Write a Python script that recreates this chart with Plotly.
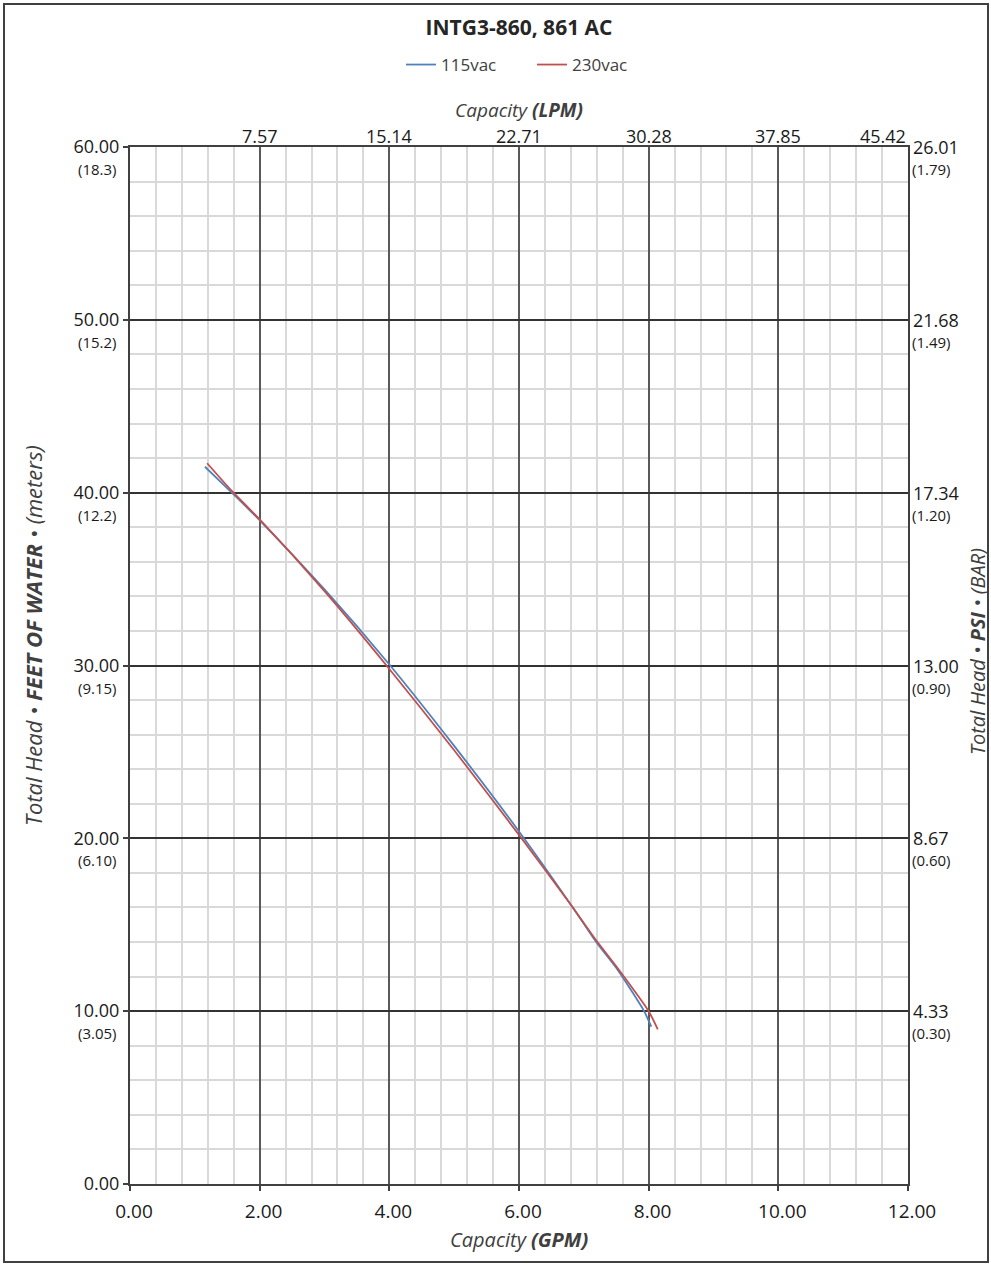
import plotly.graph_objects as go

# ---- data ----
gpm_115 = [1.156, 1.57, 2.0, 3.0, 4.0, 5.0, 6.0, 6.83, 7.19, 7.52, 7.93, 8.04]
head_115 = [41.5, 40.0, 38.4, 34.4, 30.06, 25.35, 20.4, 16.0, 14.0, 12.4, 10.0, 9.1]
gpm_230 = [1.19, 1.57, 2.0, 3.0, 4.0, 5.0, 6.0, 6.83, 7.19, 7.52, 8.0, 8.14]
head_230 = [41.7, 40.1, 38.45, 34.3, 29.8, 25.1, 20.2, 16.0, 14.1, 12.5, 10.0, 8.95]

x_ticks = [0, 2, 4, 6, 8, 10, 12]
x_tick_text = ["0.00", "2.00", "4.00", "6.00", "8.00", "10.00", "12.00"]
lpm_ticks = [2, 4, 6, 8, 10, 12]
lpm_labels = ["7.57", "15.14", "22.71", "30.28", "37.85", "45.42"]
y_ticks = [0, 10, 20, 30, 40, 50, 60]
y_tick_text = ["0.00", "10.00", "20.00", "30.00", "40.00", "50.00", "60.00"]
sec_ticks = [10, 20, 30, 40, 50, 60]
meters_labels = ["(3.05)", "(6.10)", "(9.15)", "(12.2)", "(15.2)", "(18.3)"]
psi_labels = ["4.33", "8.67", "13.00", "17.34", "21.68", "26.01"]
bar_labels = ["(0.30)", "(0.60)", "(0.90)", "(1.20)", "(1.49)", "(1.79)"]

FONT = "Open Sans"
TXT = "#1a1a1a"
BLUE = "#4F81BD"
RED = "#C0504D"

fig = go.Figure()
fig.add_trace(go.Scatter(x=gpm_115, y=head_115, mode="lines", name="115vac",
                         line=dict(color=BLUE, width=1.8, shape="spline", smoothing=0.6)))
fig.add_trace(go.Scatter(x=gpm_230, y=head_230, mode="lines", name="230vac",
                         line=dict(color=RED, width=1.8, shape="spline", smoothing=0.6)))

annotations = []
# top LPM labels
for g, t in zip(lpm_ticks, lpm_labels):
    annotations.append(dict(x=g, xref="x", y=(1184 - 136) / 1037, yref="paper", text=t,
                            showarrow=False, xanchor="right" if g == 12 else "center",
                            yanchor="middle", font=dict(family=FONT, size=18, color=TXT)))
# meters under left labels, psi/bar on right
for v, m, p, b in zip(sec_ticks, meters_labels, psi_labels, bar_labels):
    annotations.append(dict(x=-0.0424, xref="paper", y=v, yref="y", yshift=-22, text=m,
                            showarrow=False, xanchor="center", yanchor="middle",
                            font=dict(family=FONT, size=15, color=TXT)))
    annotations.append(dict(x=1.004, xref="paper", y=v, yref="y", text=p,
                            showarrow=False, xanchor="left", yanchor="middle",
                            font=dict(family=FONT, size=18, color=TXT)))
    annotations.append(dict(x=1.002, xref="paper", y=v, yref="y", yshift=-22, text=b,
                            showarrow=False, xanchor="left", yanchor="middle",
                            font=dict(family=FONT, size=15, color=TXT)))
# axis titles
annotations += [
    dict(x=0.5, xref="paper", y=(1184 - 110) / 1037, yref="paper",
         text="<i>Capacity <b>(LPM)</b></i>",
         showarrow=False, xanchor="center", yanchor="middle",
         font=dict(family=FONT, size=19, color="#404040")),
    dict(x=0.5, xref="paper", y=-0.054, yref="paper", text="<i>Capacity <b>(GPM)</b></i>",
         showarrow=False, xanchor="center", yanchor="middle",
         font=dict(family=FONT, size=20, color="#404040")),
    dict(x=(33 - 130) / 778, xref="paper", y=(1184 - 636) / 1037, yref="paper",
         text="<i>Total Head • <b>FEET OF WATER</b> • (meters)</i>", textangle=-90,
         showarrow=False, xanchor="center", yanchor="middle",
         font=dict(family=FONT, size=22, color="#404040")),
    dict(x=(977 - 130) / 778, xref="paper", y=(1184 - 652) / 1037, yref="paper",
         text="<i>Total Head • <b>PSI</b> • (BAR)</i>", textangle=-90,
         showarrow=False, xanchor="center", yanchor="middle",
         font=dict(family=FONT, size=20, color="#404040")),
]

fig.update_layout(
    width=991, height=1266,
    margin=dict(l=130, r=83, t=147, b=82),
    paper_bgcolor="white", plot_bgcolor="white",
    title=dict(text="<b>INTG3-860, 861 AC</b>", x=0.5, xref="paper", xanchor="center",
               y=1 - 28 / 1266, yanchor="middle",
               font=dict(family=FONT, size=21, color="#262626")),
    legend=dict(orientation="h", x=0.5 + 13 / 778, xanchor="center",
                y=(1184 - 65) / 1037, yanchor="middle",
                font=dict(family=FONT, size=17, color="#404040"), itemwidth=30,
                entrywidth=86, entrywidthmode="pixels",
                bgcolor="rgba(0,0,0,0)"),
    showlegend=True,
    annotations=annotations,
    shapes=[dict(type="rect", xref="paper", yref="paper",
                 x0=(4 - 130) / 778, x1=(988 - 130) / 778,
                 y0=(1184 - 1262) / 1037, y1=(1184 - 4) / 1037,
                 line=dict(color="#404040", width=2), layer="above")],
)

fig.update_xaxes(range=[0, 12], tickmode="array", tickvals=x_ticks, ticktext=x_tick_text,
                 showgrid=True, gridcolor="#595959", gridwidth=2,
                 minor=dict(dtick=0.4, tick0=0, showgrid=True, gridcolor="#d9d9d9", gridwidth=1.5),
                 showline=True, linecolor="#404040", linewidth=2, mirror=True,
                 ticks="outside", ticklen=5, tickcolor="#404040", tickwidth=1.5,
                 ticklabelstandoff=4, ticklabelshift=4,
                 tickfont=dict(family=FONT, size=19, color=TXT), zeroline=False, fixedrange=True)
fig.update_yaxes(range=[0, 60], tickmode="array", tickvals=y_ticks, ticktext=y_tick_text,
                 showgrid=True, gridcolor="#333333", gridwidth=1.6,
                 minor=dict(dtick=2, tick0=0, showgrid=True, gridcolor="#d9d9d9", gridwidth=1.5),
                 showline=True, linecolor="#404040", linewidth=2, mirror=True,
                 ticks="outside", ticklen=5, tickcolor="#404040", tickwidth=1.5,
                 tickfont=dict(family=FONT, size=18, color=TXT), zeroline=False, fixedrange=True)

fig.write_html("out.html", config={"displayModeBar": False},
               post_script="document.body.style.margin='0px';document.body.style.overflow='hidden';")
